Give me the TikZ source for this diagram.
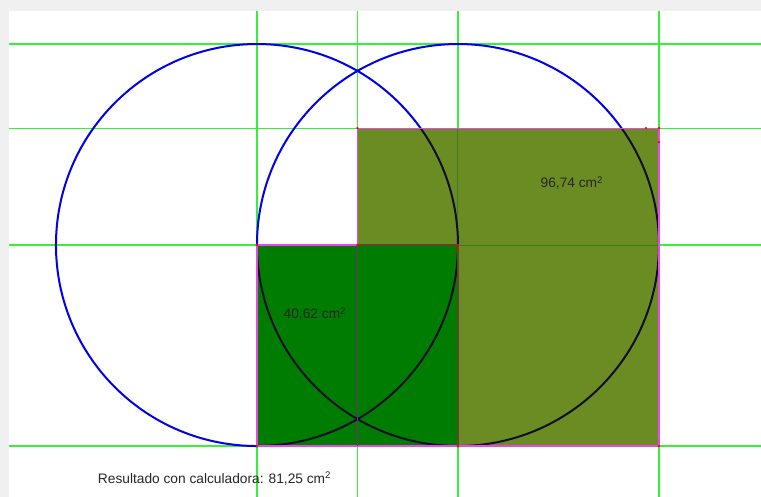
\documentclass[tikz,border=0pt]{standalone}
\usepackage{fontspec}
\setmainfont{Liberation Sans}
\usepackage{xcolor}
\usepackage{tikz}
\usetikzlibrary{positioning}
\definecolor{gridgreen}{RGB}{55,240,55}
\definecolor{darkgrid}{RGB}{60,125,30}
\definecolor{circblue}{RGB}{0,0,235}
\definecolor{arcdark}{RGB}{15,15,40}
\definecolor{olivefill}{RGB}{107,140,35}
\definecolor{sqgreen}{RGB}{0,124,0}
\definecolor{edgepink}{RGB}{235,70,235}
\definecolor{edgedark}{RGB}{95,70,40}

\begin{document}
\begin{tikzpicture}[x=75.375pt, y=75.375pt,
  gridline/.style={gridgreen, line width=0.8pt},
  circ/.style={circblue, line width=1.5pt},
  edge/.style={edgepink, line width=0.8pt},
  lbl/.style={font=\fontsize{10.3}{12}\selectfont, text=black!85, inner sep=0pt}]
\useasboundingbox (-2.557,-2.507) rectangle (5.015,2.438);
\fill[black!6] (-2.557,-2.507) rectangle (5.015,2.438);
\fill[white] (-2.468,-2.507) rectangle (5.015,2.328);
% grid lines
\foreach \y in {2,1.164,0,-2}
  \draw[gridline] (-2.468,\y) -- (5.015,\y);
\foreach \x in {0,1,2,4}
  \draw[gridline] (\x,2.328) -- (\x,-2.507);
% the two circles
\draw[circ] (0,0) circle (2);
\draw[circ] (2,0) circle (2);
% the two areas
\fill[olivefill] (1,-2) rectangle (4,1.164);
\fill[sqgreen] (0,-2) rectangle (2,0);
\begin{scope}
\clip (1,-2) rectangle (4,1.164) (0,-2) rectangle (2,0);
\draw[darkgrid, line width=0.75pt] (2,1.164) -- (2,-2);
\draw[darkgrid, line width=0.75pt] (2,0) -- (4,0);
\draw[arcdark, line width=1.5pt] (0,0) circle (2);
\draw[arcdark, line width=1.5pt] (2,0) circle (2);
\end{scope}
% edges
\draw[edge] (1,-2) rectangle (4,1.164);
\draw[edge] (1,0) -- (0,0) -- (0,-2) -- (2,-2);
\draw[edgedark, line width=0.8pt] (1,0) -- (2,0) -- (2,-2);
\draw[edgepink!55!black, line width=0.8pt] (1,0) -- (1,-2);
% points
\foreach \p in {(1,1.164),(4,1.164),(3.87,1.164),(4,1.025),(0,0),(1,0),(2,0),(2,-0.05),(0,-2),(2,-2),(4,-2)}
  \fill[red] \p circle (0.013);
% labels
\node[lbl] (small) at (0.577,-0.687) {40,62 cm\textsuperscript{2}};
\node[lbl] (big) at (3.134,0.617) {96,74 cm\textsuperscript{2}};
\node[lbl, anchor=west] (result) at (-1.585,-2.32) {Resultado con calculadora: 81,25 cm\textsuperscript{2}};
\end{tikzpicture}
\end{document}
